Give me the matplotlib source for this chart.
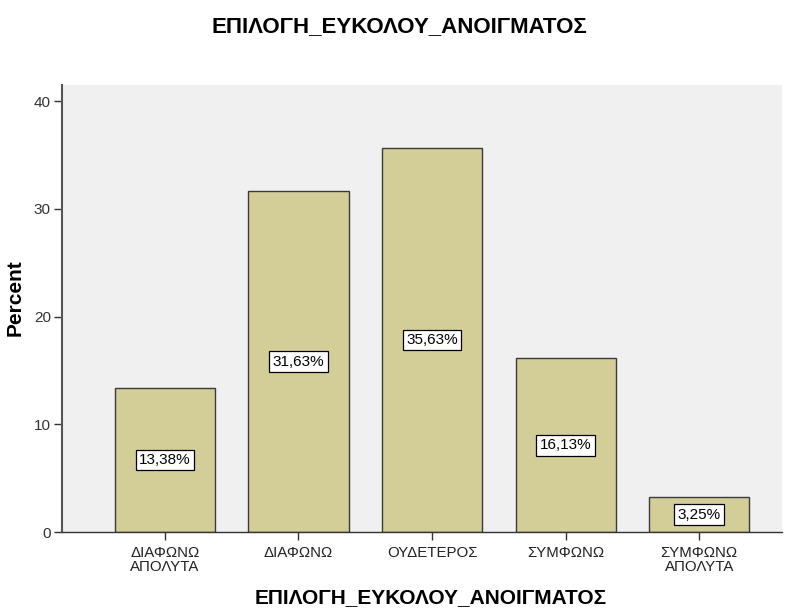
import matplotlib.pyplot as plt

# categories and percents
categories = ["ΔΙΑΦΩΝΩ\nΑΠΟΛΥΤΑ", "ΔΙΑΦΩΝΩ", "ΟΥΔΕΤΕΡΟΣ", "ΣΥΜΦΩΝΩ", "ΣΥΜΦΩΝΩ\nΑΠΟΛΥΤΑ"]
percents = [13.38, 31.63, 35.63, 16.13, 3.25]
title = "ΕΠΙΛΟΓΗ_ΕΥΚΟΛΟΥ_ΑΝΟΙΓΜΑΤΟΣ"

plt.rcParams['font.family'] = ['Liberation Sans', 'DejaVu Sans']

fig = plt.figure(figsize=(7.98, 6.09), dpi=100)
ax = fig.add_axes([0.0777, 0.1264, 0.9023, 0.734])
ax.set_facecolor('#F0F0F0')

x = list(range(len(categories)))
ax.bar(x, percents, width=0.75, color='#D3CE98', edgecolor='#3a3a3a', linewidth=1.0, zorder=2)

for xi, v in zip(x, percents):
    ax.text(xi, v / 2, f"{v:.2f}%".replace('.', ','), ha='center', va='center', fontsize=11,
            bbox=dict(boxstyle='square,pad=0.22', facecolor='white', edgecolor='black', linewidth=0.9),
            zorder=3)

ax.set_xlim(-0.77, 4.62)
ax.set_ylim(0, 41.5)
ax.set_yticks([0, 10, 20, 30, 40])
ax.set_xticks(x)
ax.set_xticklabels(categories, fontsize=10.8, color='#222222', linespacing=1.05)
ax.tick_params(axis='y', labelsize=11, labelcolor='#333333', length=6, width=1, color='#333333', pad=2)
ax.tick_params(axis='x', length=6, width=1, color='#333333', pad=4)

for s in ['top', 'right']:
    ax.spines[s].set_visible(False)
ax.spines['left'].set_color('#555555')
ax.spines['left'].set_linewidth(1.5)
ax.spines['bottom'].set_color('#333333')
ax.spines['bottom'].set_linewidth(1.0)

ax.set_ylabel("Percent", fontsize=15, fontweight='bold')
ax.yaxis.set_label_coords(-0.052, 0.525)
ax.set_xlabel(title, fontsize=15, fontweight='bold', labelpad=10)
ax.xaxis.label.set_x(0.512)
fig.text(0.5, 0.957, title, ha='center', va='center', fontsize=16, fontweight='bold')

plt.savefig("out.png", dpi=100)
